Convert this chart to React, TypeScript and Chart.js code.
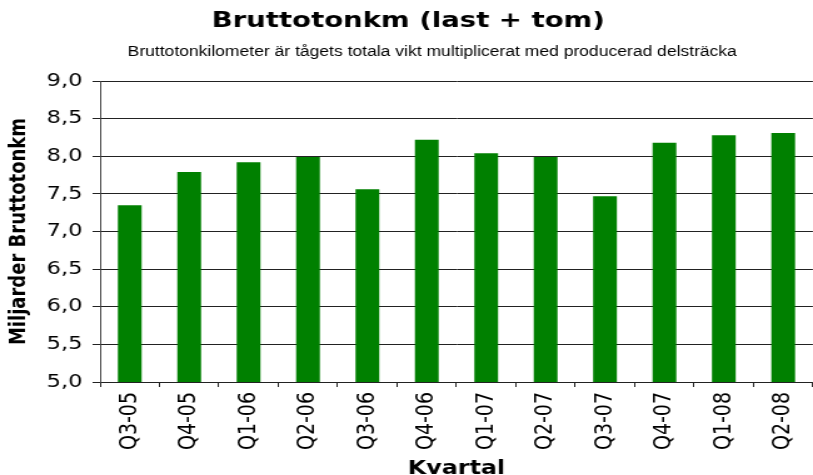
import React, { useEffect, useRef } from 'react';
import { Chart, registerables } from 'chart.js';

Chart.register(...registerables);

const categories = ['Q3-05', 'Q4-05', 'Q1-06', 'Q2-06', 'Q3-06', 'Q4-06', 'Q1-07', 'Q2-07', 'Q3-07', 'Q4-07', 'Q1-08', 'Q2-08'];
const values = [7.35, 7.79, 7.92, 7.99, 7.56, 8.22, 8.04, 7.99, 7.47, 8.18, 8.28, 8.31];
const yMin = 5.0;
const yMax = 9.0;
const yStep = 0.5;
const titleText = 'Bruttotonkm (last + tom)';
const subtitleText = 'Bruttotonkilometer är tågets totala vikt multiplicerat med producerad delsträcka';
const yTitleText = 'Miljarder Bruttotonkm';
const xTitleText = 'Kvartal';

const BITMAP_W = 654;
const BITMAP_H = 475;
const STRETCH = 1.25;

export default function App() {
  const ref = useRef<HTMLCanvasElement>(null);

  useEffect(() => {
    document.body.style.margin = '0';
    const canvas = ref.current;
    if (!canvas) return;

    const titlePlugin = {
      id: 'customTitles',
      afterDraw(chart: any) {
        const ctx = chart.ctx;
        ctx.save();
        ctx.fillStyle = '#000';
        ctx.textAlign = 'center';
        ctx.textBaseline = 'middle';
        ctx.font = 'bold 22px "DejaVu Sans"';
        ctx.fillText(titleText, 326.4, 21);
        ctx.font = '14px "Liberation Sans"';
        ctx.fillText(subtitleText, 345.6, 52);
        ctx.restore();
      },
    };

    const chart = new Chart(canvas, {
      type: 'bar',
      data: {
        labels: categories,
        datasets: [
          {
            data: values,
            backgroundColor: '#008000',
            borderWidth: 0,
            barPercentage: 0.4,
            categoryPercentage: 1.0,
          },
        ],
      },
      options: {
        responsive: false,
        animation: false,
        devicePixelRatio: 1,
        layout: { padding: { top: 81, left: 0, right: 0, bottom: 0 } },
        plugins: {
          legend: { display: false },
          tooltip: { enabled: false },
          title: { display: false },
        },
        scales: {
          x: {
            offset: true,
            grid: {
              offset: true,
              drawOnChartArea: false,
              drawTicks: true,
              tickLength: 5,
              color: '#222',
            },
            border: { display: true, color: '#222', width: 1 },
            ticks: {
              autoSkip: false,
              maxRotation: 90,
              minRotation: 90,
              padding: 5,
              color: '#000',
              font: { family: '"DejaVu Sans"', size: 19 },
            },
            title: {
              display: true,
              text: xTitleText,
              color: '#000',
              font: { family: '"DejaVu Sans"', size: 19, weight: 'bold' },
              padding: { top: 0, bottom: -5 },
            },
            afterFit(scale: any) {
              scale.height = 93;
            },
          },
          y: {
            min: yMin,
            max: yMax,
            grid: {
              color: '#222',
              lineWidth: 1,
              tickLength: 6,
              drawTicks: true,
            },
            border: { display: true, color: '#444', width: 1 },
            ticks: {
              stepSize: yStep,
              padding: 8,
              color: '#000',
              font: { family: '"DejaVu Sans"', size: 18 },
              callback: (v: any) => Number(v).toFixed(1).replace('.', ','),
            },
            title: {
              display: true,
              text: yTitleText,
              color: '#000',
              font: { family: '"DejaVu Sans"', size: 18, weight: 'bold' },
              padding: { top: 5, bottom: 0 },
            },
            afterFit(scale: any) {
              scale.width = 80;
            },
          },
        },
      },
      plugins: [titlePlugin],
    });

    canvas.style.width = `${BITMAP_W * STRETCH}px`;
    canvas.style.height = `${BITMAP_H}px`;

    return () => {
      chart.destroy();
    };
  }, []);

  return (
    <div style={{ width: 813, height: 475, overflow: 'hidden', position: 'relative' }}>
      <canvas ref={ref} width={BITMAP_W} height={BITMAP_H} style={{ display: 'block' }} />
    </div>
  );
}
